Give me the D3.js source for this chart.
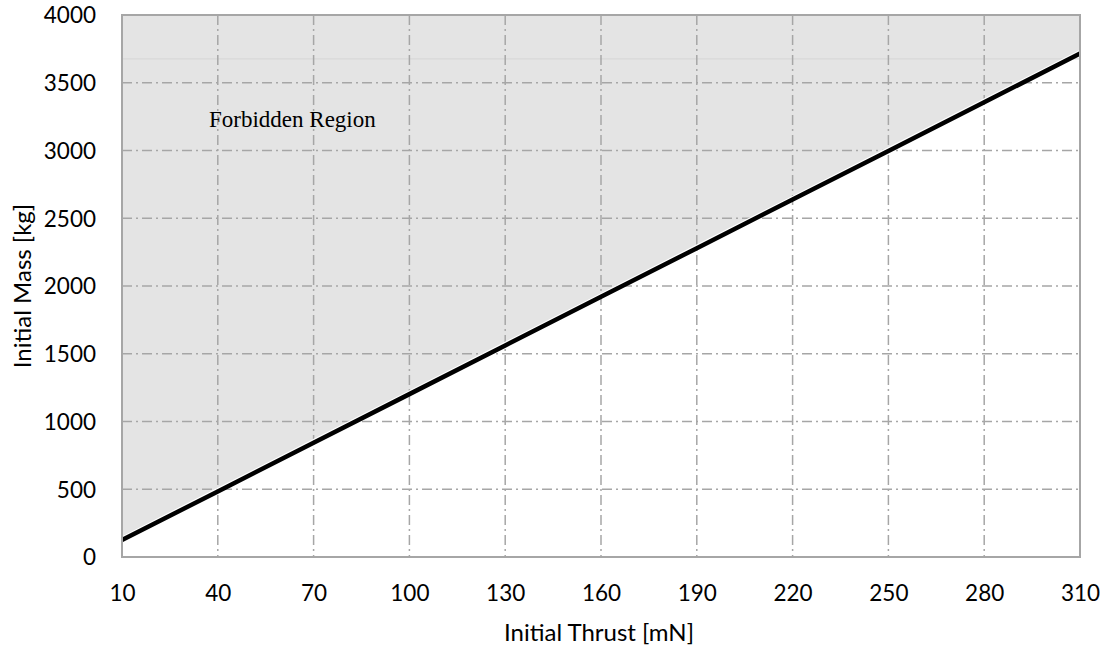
<!DOCTYPE html>
<html><head><meta charset="utf-8">
<script src="https://cdn.jsdelivr.net/npm/d3@7"></script>
<style>body{margin:0;background:#fff}</style>
</head><body>
<svg id="c" width="1107" height="651"></svg>
<script>
const thrust = [10, 40, 70, 100, 130, 160, 190, 220, 250, 280, 310];
const mass = [125, 484, 843, 1202, 1561, 1920, 2279, 2638, 2997, 3356, 3715];
const xTicks = [10, 40, 70, 100, 130, 160, 190, 220, 250, 280, 310];
const yTicks = [0, 500, 1000, 1500, 2000, 2500, 3000, 3500, 4000];
const faintLevel = [3676];

const svg = d3.select("#c");
const L = 122, R = 1080, T = 15, B = 557;
const x = d3.scaleLinear().domain([10, 310]).range([L, R]);
const y = d3.scaleLinear().domain([0, 4000]).range([B, T]);
const font = "Lato, 'Open Sans', sans-serif";

// forbidden region fill
const data = thrust.map((t, i) => ({t, m: mass[i]}));
svg.append("path")
  .attr("d", d3.area().x(d => x(d.t)).y0(T).y1(d => y(d.m) - 3)(data))
  .attr("fill", "#e4e4e4");
svg.append("line")
  .attr("x1", L).attr("x2", R).attr("y1", y(faintLevel[0])).attr("y2", y(faintLevel[0]))
  .attr("stroke", "#d6d6d6").attr("stroke-width", 1);

// grid
const dash = "10,4,2,4";
svg.append("g").selectAll("line").data(xTicks.slice(1, -1)).join("line")
  .attr("x1", d => x(d)).attr("x2", d => x(d)).attr("y1", T).attr("y2", B)
  .attr("stroke", "#a6a6a6").attr("stroke-width", 1.5).attr("stroke-dasharray", dash);
svg.append("g").selectAll("line").data(yTicks.slice(1, -1)).join("line")
  .attr("y1", d => y(d)).attr("y2", d => y(d)).attr("x1", L).attr("x2", R)
  .attr("stroke", "#a6a6a6").attr("stroke-width", 1.5).attr("stroke-dasharray", dash);

// white edge of area
svg.append("path")
  .attr("d", d3.line().x(d => x(d.t)).y(d => y(d.m) - 3)(data))
  .attr("fill", "none").attr("stroke", "#fff").attr("stroke-width", 1.5);
// main line
svg.append("path")
  .attr("d", d3.line().x(d => x(d.t)).y(d => y(d.m))(data))
  .attr("fill", "none").attr("stroke", "#000").attr("stroke-width", 4.5);

// border
svg.append("rect").attr("x", L).attr("y", T).attr("width", R - L).attr("height", B - T)
  .attr("fill", "none").attr("stroke", "#a6a6a6").attr("stroke-width", 2);

// axes
const xAxis = svg.append("g").attr("transform", `translate(0,${B})`)
  .call(d3.axisBottom(x).tickValues(xTicks).tickFormat(d3.format("d")).tickSize(0));
xAxis.selectAll("text").attr("y", 44).attr("dy", null);
const yAxis = svg.append("g").attr("transform", `translate(${L},0)`)
  .call(d3.axisLeft(y).tickValues(yTicks).tickFormat(d3.format("d")).tickSize(0));
yAxis.selectAll("text").attr("x", -26).attr("dy", "0.35em");
[xAxis, yAxis].forEach(a => {
  a.select(".domain").remove();
  a.selectAll("text").attr("font-family", font).attr("font-size", 22.5).attr("fill", "#000");
});

svg.append("text").attr("x", 599).attr("y", 641).attr("text-anchor", "middle")
  .attr("font-family", font).attr("font-size", 24).text("Initial Thrust [mN]");
svg.append("text").attr("transform", `translate(31,286) rotate(-90)`)
  .attr("text-anchor", "middle").attr("font-family", font).attr("font-size", 24)
  .text("Initial Mass [kg]");

svg.append("text").attr("x", 209).attr("y", 127)
  .attr("font-family", "'Liberation Serif', 'Times New Roman', serif").attr("font-size", 23)
  .text("Forbidden Region");
</script>
</body></html>
